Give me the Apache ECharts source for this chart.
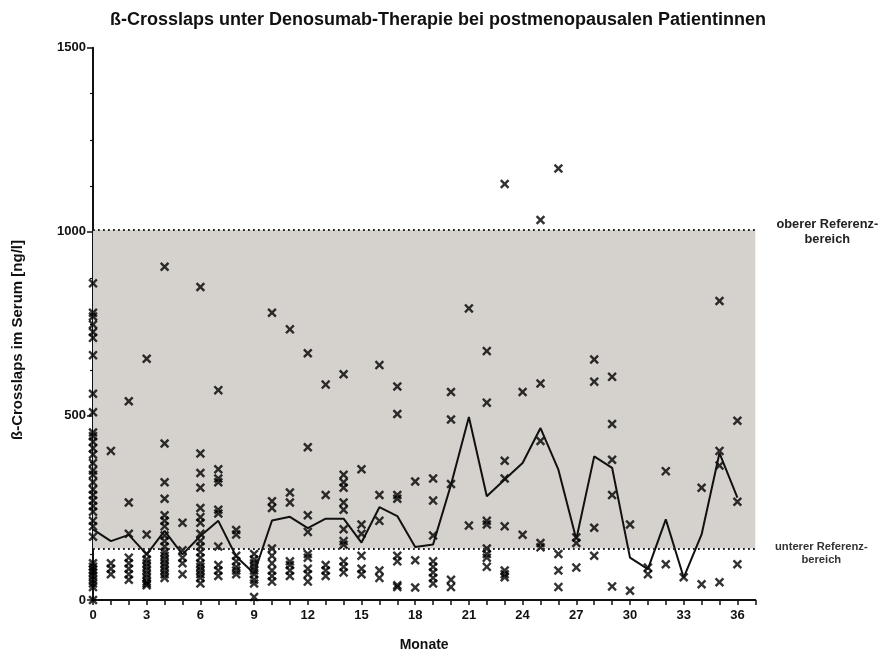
<!DOCTYPE html>
<html>
<head>
<meta charset="utf-8">
<script src="https://cdn.jsdelivr.net/npm/echarts@6/dist/echarts.min.js"></script>
<style>
  html, body { margin: 0; padding: 0; background: #fff; }
  #chart { width: 880px; height: 657px; }
</style>
</head>
<body>
<div id="chart"></div>
<script>
// Months after start of denosumab therapy
const months = [0,1,2,3,4,5,6,7,8,9,10,11,12,13,14,15,16,17,18,19,20,21,22,23,24,25,26,27,28,29,30,31,32,33,34,35,36];

// Median ß-Crosslaps per month [ng/l]
const medianLine = [192,160,177,124,188,124,174,215,118,72,216,226,195,221,221,156,252,228,144,151,313,497,282,327,372,467,354,165,390,359,115,84,219,61,178,399,278];

// Individual patient measurements per month [ng/l]
const patientValues = [
  [860,780,770,748,728,712,665,560,510,455,445,430,412,395,372,352,340,320,300,285,270,255,240,215,200,172,100,90,82,75,65,55,45,35,0],
  [405,100,85,70],
  [540,265,180,115,100,85,70,55],
  [655,178,125,110,100,90,80,70,60,50,45,40],
  [905,425,320,275,230,215,200,175,160,145,130,120,110,100,90,80,70,60],
  [210,135,115,100,70],
  [850,398,345,305,250,225,210,180,160,145,130,115,100,90,80,70,60,45],
  [570,355,330,320,245,235,145,95,80,65],
  [190,178,120,105,90,80,70],
  [125,110,100,90,80,70,55,45,8],
  [780,268,250,140,120,100,80,65,50],
  [735,292,265,105,95,80,65],
  [670,415,230,185,125,115,85,70,50],
  [585,285,95,80,65],
  [613,340,320,305,265,245,192,160,150,105,90,75],
  [355,205,180,120,85,70],
  [638,285,215,80,60],
  [580,505,285,275,120,105,40,35],
  [322,108,34],
  [330,270,175,105,90,75,60,45],
  [565,490,315,55,35],
  [792,202],
  [676,536,215,205,140,125,115,90],
  [1130,378,330,200,80,70,62],
  [565,177],
  [1032,588,432,155,143],
  [1172,125,80,35],
  [170,155,88],
  [653,593,196,120],
  [606,478,381,285,37],
  [205,25],
  [88,70],
  [350,97],
  [62],
  [305,43],
  [812,405,365,48],
  [487,267,97]
];

// Reference range bounds [ng/l]
const refUpper = 1005;
const refLower = 140;

const xMax = 37;
const fontFamily = '"Liberation Sans", Arial, sans-serif';

const scatterData = [];
patientValues.forEach((vals, i) => {
  vals.forEach(v => scatterData.push([months[i], v]));
});
const lineData = months.map((m, i) => [m, medianLine[i]]);

// Filled "x" marker outline
const crossPath = 'path://M0,1.8L1.8,0L5,3.2L8.2,0L10,1.8L6.8,5L10,8.2L8.2,10L5,6.8L1.8,10L0,8.2L3.2,5Z';

const chart = echarts.init(document.getElementById('chart'), null, { renderer: 'canvas' });

chart.setOption({
  animation: false,
  backgroundColor: '#ffffff',
  textStyle: { fontFamily: fontFamily },
  title: {
    text: 'ß-Crosslaps unter Denosumab-Therapie bei postmenopausalen Patientinnen',
    left: 433,
    textAlign: 'center',
    top: 6,
    textStyle: { fontFamily: fontFamily, fontSize: 18, fontWeight: 'bold', color: '#111' }
  },
  grid: { left: 93, right: 880 - 755.3, top: 47.7, bottom: 657 - 602.7, containLabel: false },
  xAxis: {
    type: 'value',
    min: 0,
    max: xMax,
    interval: 1,
    name: 'Monate',
    nameLocation: 'middle',
    nameGap: 38,
    nameTextStyle: { fontFamily: fontFamily, fontSize: 14, fontWeight: 'bold', color: '#111' },
    axisLine: { show: true, onZero: false, lineStyle: { color: '#111', width: 2 } },
    axisTick: { show: true, length: 5, lineStyle: { color: '#111', width: 1.5 } },
    splitLine: { show: false },
    axisLabel: {
      margin: 9,
      fontFamily: fontFamily, fontSize: 13, fontWeight: 'bold', color: '#111',
      formatter: v => (v % 3 === 0 && v <= 36 ? String(v) : '')
    }
  },
  yAxis: {
    type: 'value',
    min: 0,
    max: 1500,
    interval: 500,
    axisLine: { show: true, onZero: false, lineStyle: { color: '#111', width: 2 } },
    axisTick: { show: true, length: 6, lineStyle: { color: '#111', width: 1.5 } },
    minorTick: { show: true, splitNumber: 4, length: 3, lineStyle: { color: '#111', width: 1.2 } },
    splitLine: { show: false },
    axisLabel: {
      margin: 7, fontFamily: fontFamily, fontSize: 13, fontWeight: 'bold', color: '#111',
      formatter: v => String(v)
    }
  },
  series: [
    {
      name: 'Referenzbereich',
      type: 'line',
      data: [],
      silent: true,
      markArea: {
        silent: true,
        itemStyle: { color: '#d5d2ce' },
        data: [[{ coord: [0, refLower] }, { coord: [xMax, refUpper] }]]
      },
      markLine: {
        silent: true,
        symbol: 'none',
        label: { show: false },
        lineStyle: { color: '#222', width: 1.8, type: [1.8, 3.2] },
        data: [
          [{ coord: [0, refUpper] }, { coord: [xMax, refUpper] }],
          [{ coord: [0, refLower] }, { coord: [xMax, refLower] }]
        ]
      }
    },
    {
      name: 'Patientinnen',
      type: 'scatter',
      data: scatterData,
      symbol: crossPath,
      symbolSize: 9.5,
      itemStyle: { color: '#000' },
      z: 3
    },
    {
      name: 'Median',
      type: 'line',
      data: lineData,
      showSymbol: false,
      symbol: 'none',
      lineStyle: { color: '#111', width: 2 },
      z: 4
    }
  ]
});

// Axis title and side labels naming the reference range bounds
const upperPx = chart.convertToPixel({ xAxisIndex: 0, yAxisIndex: 0 }, [xMax, refUpper]);
const lowerPx = chart.convertToPixel({ xAxisIndex: 0, yAxisIndex: 0 }, [xMax, refLower]);
chart.setOption({
  graphic: [
    {
      type: 'text',
      x: 18,
      y: 340,
      rotation: Math.PI / 2,
      style: {
        text: 'ß-Crosslaps im Serum [ng/l]',
        fontFamily: fontFamily, fontSize: 15, fontWeight: 'bold', fill: '#111',
        align: 'center', verticalAlign: 'middle'
      }
    },
    {
      type: 'text',
      x: upperPx[0] + 72,
      y: upperPx[1] + 2,
      style: {
        text: 'oberer Referenz-\nbereich',
        fontFamily: fontFamily, fontSize: 12.8, fontWeight: 'bold', fill: '#222',
        align: 'center', verticalAlign: 'middle', lineHeight: 15
      }
    },
    {
      type: 'text',
      x: lowerPx[0] + 66,
      y: lowerPx[1] + 5,
      style: {
        text: 'unterer Referenz-\nbereich',
        fontFamily: fontFamily, fontSize: 11.2, fontWeight: 'bold', fill: '#333',
        align: 'center', verticalAlign: 'middle', lineHeight: 13
      }
    }
  ]
});
</script>
</body>
</html>
